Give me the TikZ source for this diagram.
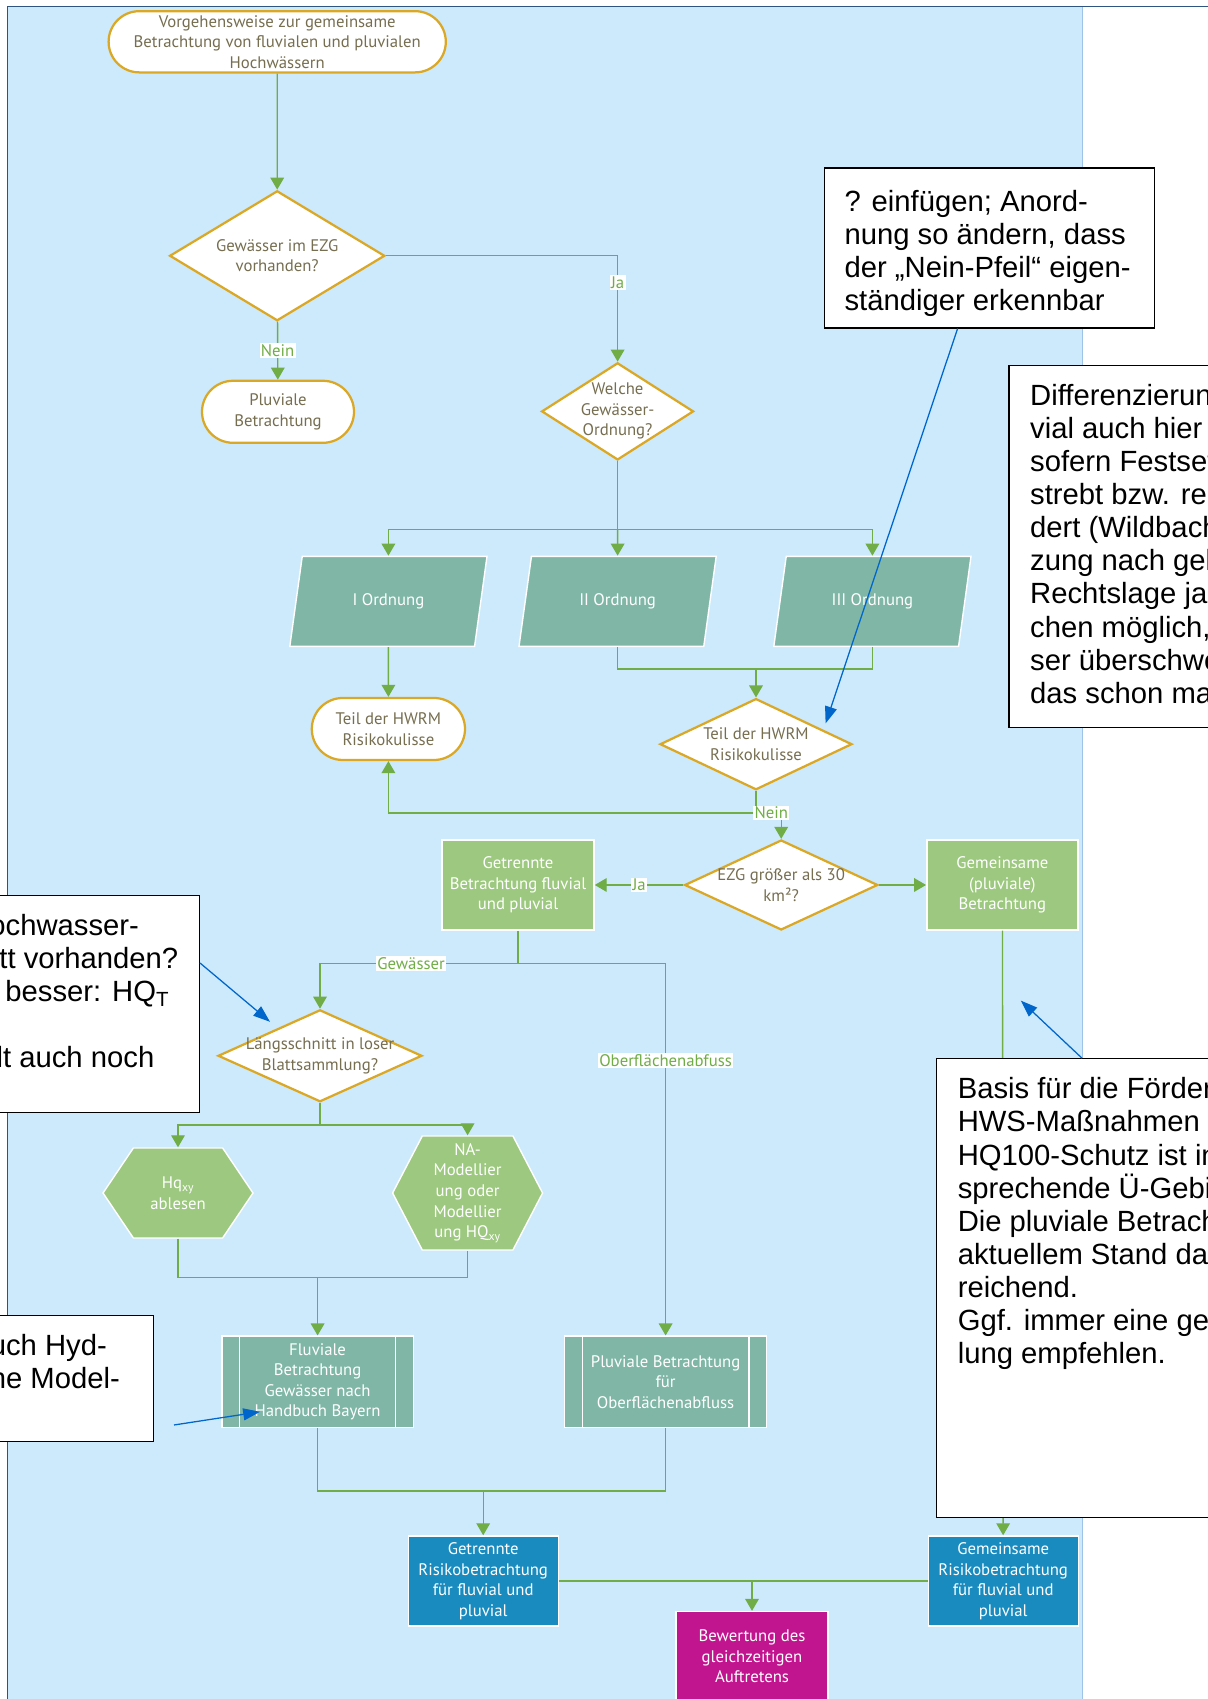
\documentclass[tikz,border=0pt]{standalone}
\usepackage{fontspec}
\usetikzlibrary{shapes.geometric,shapes.misc,shapes.symbols,arrows.meta}
\newfontfamily\chartfont{PT Sans}
\newfontfamily\notefont{Liberation Sans}
\newcommand{\chartsize}{\chartfont\fontsize{11.9}{14.6}\selectfont}
\newcommand{\notesize}{\notefont\fontsize{20.8}{23.5}\selectfont}
\newcommand{\notetext}[3]{\parbox[c][#1][t]{#2}{\raggedright #3}}
\begin{document}
\begin{tikzpicture}[
  every node/.style={font=\chartsize, align=center},
  line/.style={draw=flowcolor, line width=1pt},
  flow/.style={line, -{Triangle[length=0.3cm,width=0.34cm]}},
  lbl/.style={fill=white, text=flowcolor, inner sep=1pt},
  terminal/.style={rounded rectangle, draw=goldcolor, line width=1.6pt, fill=white, text=textcolor, inner xsep=-0.5cm, inner ysep=0pt},
  decision/.style={diamond, aspect=2, draw=goldcolor, line width=1.6pt, fill=white, text=textcolor, inner xsep=-0.8cm, inner ysep=0pt},
  inout/.style={trapezium, trapezium left angle=63.4, trapezium right angle=116.6, trapezium stretches body, draw=white, line width=1pt, fill=tealcolor, text=white, minimum width=4.93cm, minimum height=2.25cm},
  process/.style={rectangle, draw=white, line width=1pt, text=white, inner sep=0pt, minimum height=2.25cm},
  predef/.style={process, fill=tealcolor, path picture={
    \draw[white, line width=1pt] ([xshift=0.44cm]path picture bounding box.north west) -- ([xshift=0.44cm]path picture bounding box.south west)
      ([xshift=-0.44cm]path picture bounding box.north east) -- ([xshift=-0.44cm]path picture bounding box.south east);}},
  prep/.style={signal, signal to=east and west, draw=white, line width=1pt, fill=greencolor, text=white, inner sep=0pt, minimum width=3.75cm},
  note/.style={rectangle, draw=black, line width=0.8pt, fill=white, font=\notesize, align=left, inner xsep=0.53cm, inner ysep=0.475cm},
  notearrow/.style={draw=notecolor, line width=0.9pt, -{Triangle[length=0.42cm,width=0.3cm]}}
]
\definecolor{bgblue}{RGB}{204,234,251}
\definecolor{framecolor}{RGB}{46,84,130}
\definecolor{edgecolor}{RGB}{157,195,230}
\definecolor{flowcolor}{RGB}{112,173,71}
\definecolor{goldcolor}{RGB}{219,168,38}
\definecolor{textcolor}{RGB}{118,110,80}
\definecolor{tealcolor}{RGB}{127,182,166}
\definecolor{greencolor}{RGB}{157,200,127}
\definecolor{bluecolor}{RGB}{25,139,191}
\definecolor{magentacolor}{RGB}{193,21,143}
\definecolor{notecolor}{RGB}{0,102,204}
\useasboundingbox (0,0) rectangle (30.2,42.475);
\clip (0,0) rectangle (30.2,42.475);
\fill[bgblue] (0.19,0) rectangle (27.05,42.31);
\draw[edgecolor, line width=0.6pt] (27.05,0) -- (27.05,42.31);
\draw[framecolor, line width=1pt] (0.19,0) -- (0.19,42.31) -- (30.2,42.31);
% flowchart
\node[terminal, minimum width=7.43cm, minimum height=1.53cm] (start) at (6.93,41.43) {Vorgehensweise zur gemeinsame\\Betrachtung von fluvialen und pluvialen\\Hochwässern};
\node[decision, minimum width=5.38cm, minimum height=3.25cm] (water) at (6.93,36.08) {Gewässer im EZG\\vorhanden?};
\node[terminal, minimum width=2.8cm, minimum height=1.55cm] (pluvial) at (6.95,32.18) {Pluviale\\Betrachtung};
\node[decision, minimum width=3.8cm, minimum height=2.43cm] (order) at (15.44,32.19) {Welche\\Gewässer-\\Ordnung?};
\node[inout] (ord1) at (9.71,27.44) {I Ordnung};
\node[inout] (ord2) at (15.44,27.44) {II Ordnung};
\node[inout] (ord3) at (21.81,27.44) {III Ordnung};
\node[terminal, minimum width=2.83cm, minimum height=1.55cm] (hwrm) at (9.71,24.25) {Teil der HWRM\\Risikokulisse};
\node[decision, minimum width=4.8cm, minimum height=2.28cm] (inhwrm) at (18.9,23.87) {Teil der HWRM\\Risikokulisse};
\node[decision, minimum width=4.83cm, minimum height=2.25cm] (area) at (19.53,20.35) {EZG größer als 30\\km²?};
\node[process, fill=greencolor, minimum width=3.8cm] (separate) at (12.95,20.35) {Getrennte\\Betrachtung fluvial\\und pluvial};
\node[process, fill=greencolor, minimum width=3.78cm] (joint) at (25.06,20.35) {Gemeinsame\\(pluviale)\\Betrachtung};
\node[decision, minimum width=5.1cm, minimum height=2.3cm] (profile) at (8.0,16.08) {Längsschnitt in loser\\Blattsammlung?};
\node[prep, minimum height=2.25cm, signal pointer angle=112] (readhq) at (4.45,12.65) {Hq\textsubscript{xy}\\ablesen};
\node[prep, minimum height=2.85cm, signal pointer angle=125] (model) at (11.69,12.65) {NA-\\Modellier\\ung oder\\Modellier\\ung HQ\textsubscript{xy}};
\node[predef, minimum width=4.78cm, minimum height=2.28cm] (fluvial) at (7.94,7.93) {Fluviale\\Betrachtung\\Gewässer nach\\Handbuch Bayern};
\node[predef, minimum width=5.05cm, minimum height=2.28cm] (runoff) at (16.64,7.93) {Pluviale Betrachtung\\für\\Oberflächenabfluss};
\node[process, fill=bluecolor, minimum width=3.75cm] (risksep) at (12.08,2.95) {Getrennte\\Risikobetrachtung\\für fluvial und\\pluvial};
\node[process, fill=bluecolor, minimum width=3.75cm] (riskjoint) at (25.08,2.95) {Gemeinsame\\Risikobetrachtung\\für fluvial und\\pluvial};
\node[process, fill=magentacolor, minimum width=3.8cm] (assess) at (18.8,1.06) {Bewertung des\\gleichzeitigen\\Auftretens};
% connectors
\draw[flow] (start) -- (water);
\draw[flow] (water) -- node[lbl] {Nein} (pluvial);
\draw[flow] (water.east) -| node[lbl, pos=0.625] {Ja} (order.north);
\coordinate (split) at (15.44,29.23);
\draw[line] (order.south) -- (split);
\draw[flow] (split) -| (ord1.north);
\draw[flow] (split) -- (ord2.north);
\draw[flow] (split) -| (ord3.north);
\draw[flow] (ord1) -- (hwrm);
\coordinate (merge) at (18.9,25.75);
\draw[line] (ord2.south) |- (merge) -| (ord3.south);
\draw[flow] (merge) -- (inhwrm.north);
\coordinate (nojoint) at (18.9,22.15);
\draw[flow] (inhwrm.south) -- (nojoint) -| (hwrm.south);
\draw[flow] (nojoint) -| node[lbl, pos=0.5, xshift=-0.25cm] {Nein} (area.north);
\draw[flow] (area.west) -- node[lbl] {Ja} (separate.east);
\draw[flow] (area.east) -- (joint.west);
\coordinate (gsplit) at (12.95,18.38);
\draw[line] (separate.south) -- (gsplit);
\draw[flow] (gsplit) -| node[lbl, pos=0.27] {Gewässer} (profile.north);
\draw[flow] (gsplit) -| node[lbl, pos=0.63] {Oberflächenabfuss} (runoff.north);
\coordinate (hsplit) at (8.0,14.35);
\draw[line] (profile.south) -- (hsplit);
\draw[flow] (hsplit) -| (readhq.north);
\draw[flow] (hsplit) -| (model.north);
\coordinate (hmerge) at (7.94,10.53);
\draw[line] (readhq.south) |- (hmerge) -| (model.south);
\draw[flow] (hmerge) -- (fluvial.north);
\coordinate (rsplit) at (12.08,5.2);
\draw[line] (fluvial.south) |- (rsplit) -| (runoff.south);
\draw[flow] (rsplit) -- (risksep.north);
\draw[flow] (joint) -- (riskjoint);
\draw[line] (risksep.east) -- (riskjoint.west);
\coordinate (rmerge) at (18.8,2.95);
\draw[flow] (rmerge) -- (assess.north);
% review notes
\node[note, anchor=north west, inner xsep=0.5cm, inner ysep=0.55cm] (noteA) at (20.6,38.29) {\notetext{2.9cm}{7.25cm}{? einfügen; Anord-\\nung so ändern, dass\\der „Nein-Pfeil“ eigen-\\ständiger erkennbar}};
\node[note, anchor=north west] (noteB) at (25.21,33.35) {\notetext{8.09cm}{6cm}{Differenzierun\\vial auch hier\\sofern Festset\\strebt bzw. rec\\dert (Wildbach\\zung nach gel\\Rechtslage ja\\chen möglich,\\ser überschwe\\das schon ma}};
\node[note, anchor=north east, inner xsep=0.55cm] (noteC) at (5.0,20.1) {\notetext{4.475cm}{4.7cm}{\mbox{ochwasser-}\\\mbox{\hspace*{0.25cm}tt vorhanden?}\\\mbox{\hspace*{0.4cm}besser: HQ\textsubscript{T}}\\[\baselineskip]\mbox{\hspace*{0.18cm}lt auch noch}}};
\node[note, anchor=north east, inner xsep=0.55cm] (noteD) at (3.86,9.6) {\notetext{2.2cm}{3.55cm}{uch Hyd-\\he Model-}};
\node[note, anchor=north west] (noteE) at (23.4,16.02) {\notetext{10.51cm}{9cm}{Basis für die Förder\\HWS-Maßnahmen f\\HQ100-Schutz ist in\\sprechende Ü-Gebi\\Die pluviale Betrach\\aktuellem Stand da\\reichend.\\Ggf. immer eine get\\lung empfehlen.}};
\coordinate (tipA) at (20.64,24.39);
\draw[notearrow] ([xshift=3.34cm]noteA.south west) -- (tipA);
\coordinate (tipC) at (6.75,16.93);
\draw[notearrow] ([yshift=-1.7cm]noteC.north east) -- (tipC);
\coordinate (tailD) at (4.35,6.85);
\coordinate (tipD) at (6.5,7.18);
\draw[notearrow] (tailD) -- (tipD);
\coordinate (tipE) at (25.52,17.46);
\draw[notearrow] ([xshift=3.65cm]noteE.north west) -- (tipE);
\end{tikzpicture}
\end{document}
